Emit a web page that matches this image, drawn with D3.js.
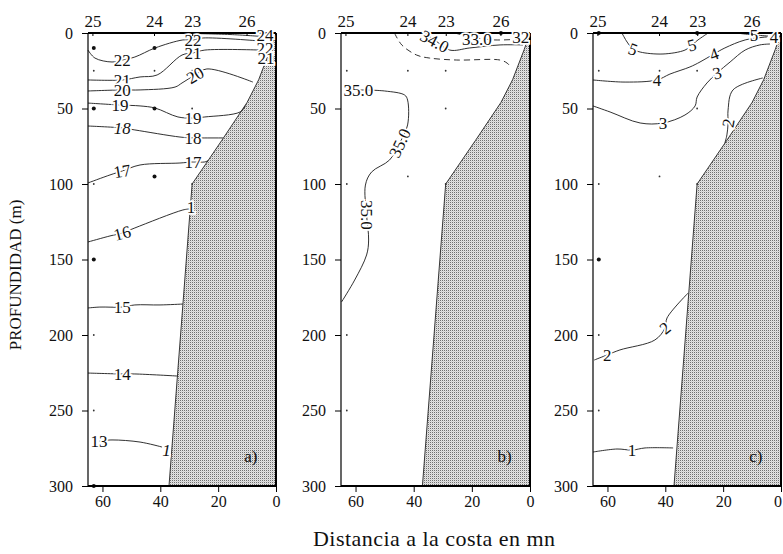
<!DOCTYPE html>
<html><head><meta charset="utf-8">
<script src="https://cdn.jsdelivr.net/npm/d3@7"></script>
<style>
body{margin:0;background:#fff}
text{font-family:"Liberation Serif","Times New Roman",serif;fill:#111}
</style>
</head><body>
<svg id="chart" width="783" height="554"></svg>
<script>
// ---------- data ----------
const distTicks = [60, 40, 20, 0];
const depthTicks = [0, 50, 100, 150, 200, 250, 300];
const stationNames = ["25", "24", "23", "26"];
const stationDist = [63.3, 42, 28.8, 10];
const panelNames = ["a)", "b)", "c)"];
const bathy = [[0,0],[2,11],[6,31],[10,46],[18.7,71],[29,100],[37,300]];
const samplePts = [[63,25],[42,25],[29,25],[29,50],[63,100],[42,95],[29,100],[63,200],[63,250]];
const bigDotsA = [[63,10],[42,10],[63,50],[42,50],[42,95],[63,150],[63,300]];
const bigDotsB = [[10,0]];
const bigDotsC = [[63,0],[29,0],[63,150]];

// panel a: temperature
const tLines = [
  [[29.7,0.3],[15.9,1.0],[4.8,2.3]],
  [[65,11.3],[62.6,16.6],[56.7,19.2],[53.2,17.9],[48.8,15.9],[41.8,9.9],[32.2,4.6],[28.7,4.6],[25.2,3.3],[5.5,5.3]],
  [[65,31.1],[53.2,31.1],[47.0,29.1],[41.1,27.8],[32.5,14.6],[28.7,13.2],[24.6,11.3],[5.2,11.3]],
  [[65,38.4],[53.2,37.7],[47.0,37.7],[34.9,35.8],[32.5,33.1],[28.0,27.8],[23.9,23.8],[8.0,32.5]],
  [[65,46.4],[53.9,47.7],[47.0,48.3],[41.8,49.7],[33.9,55.6],[28.7,56.3],[24.6,55.6],[12.4,52.3],[10.5,48]],
  [[65,61.6],[53.2,62.9],[48.8,64.2],[33.2,68.9],[28.7,69.5],[24.6,69.5],[18.3,69.5]],
  [[65,99.3],[57.4,94.0],[53.2,91.4],[47.0,87.4],[33.2,86.1],[28.7,85.4],[24.6,85.4],[23.5,84.5]],
  [[65,138.4],[57.4,134.4],[53.2,132.5],[48.8,129.1],[32.2,117.2],[29.8,116.5]],
  [[65,182.1],[60.9,181.5],[53.2,181.5],[48.8,180.1],[40.1,180.1],[32.2,179.5]],
  [[65,225.2],[53.2,225.8],[48.8,225.8],[33.9,227.2]],
  [[61,270.2],[56.7,269.5],[47.0,270.9],[39.4,274.2]]
];
const tLabels = [
  ["22",53.2,17.9,0],["22",28.7,4.6,0],["21",53.2,31.1,0],["21",28.7,13.2,0],
  ["20",53.2,37.7,0],["20",28.0,27.8,-30],["19",53.9,47.7,0],["19",28.7,56.3,0],
  ["18",53.2,62.9,0,1],["18",28.7,69.5,0],["17",53.2,91.4,-10],["17",28.7,85.4,0],
  ["16",53.2,132.5,-15],["1",29.4,115,0],["15",53.2,181.5,0],["14",53.2,225.8,0],
  ["13",61.2,270.2,0],["1",37.9,276,0,1],["24",3.8,1.3,0],["22",3.8,10,0],["21",3.5,16.5,0]
];

// panel b: salinity
const sLines = [
  [[59,37.7],[50.0,38.4],[43.1,41.1],[42.1,44.4],[42.1,60.9],[44.8,72.8],[48.3,84.1],[54.5,92.1],[56.6,100.7],[56.2,120.5],[55.5,137.1],[56.2,147.0],[60.3,163.6],[64.8,178.1]],
  [[36.5,0],[32.8,4.6],[27.6,11.3],[20.7,9.9],[10.3,7.9],[2.4,7.9]]
];
const sDashed = [
  [[46.6,0],[44.1,7.9],[39.0,14.6],[34.5,16.6],[25.2,17.9],[10.3,17.9],[7.9,19.9],[6.6,22.5]],
  [[25.9,0],[18.3,3.3],[12.1,4.6],[2.8,4.0]]
];
const sLabels = [
  ["35.0",59,37.7,0],["35.0",44.8,72.8,-65],["35.0",56.2,120.5,90],
  ["34.0",32.8,5.5,28],["33.0",18.3,3.8,0],["32",3.2,2.6,0]
];

// panel c: oxygen
const oLines = [
  [[55.0,0],[53.2,6.0],[51.2,10.6],[48.7,12.6],[40.8,13.9],[33.2,11.3],[30.8,7.9],[28.7,4.6],[25.2,0]],
  [[14.2,0.3],[9.3,1.3],[4.5,2.0]],
  [[65,31.1],[53.9,32.5],[42.9,31.1],[38.4,27.2],[31.5,22.5],[28.0,19.2],[23.2,13.9],[19.4,9.9],[12.4,4.6],[4.8,2.6]],
  [[65,48.3],[59.1,52.3],[48.7,59.6],[40.8,59.6],[33.2,54.3],[29.7,48.3],[29.0,42.4],[25.6,33.1],[22.1,26.5],[17.6,19.2],[12.4,11.3],[7.3,7.9],[3.8,7.3]],
  [[6.3,29.8],[16.6,37.7],[18.3,51.0],[18.3,59.6],[18.7,67.5],[19.4,72.8]],
  [[32.1,172.2],[39.4,188.7],[40.1,195.4],[43.6,203.3],[55.7,209.9],[60.1,213.2],[64.6,216.6]],
  [[65,277.5],[56.7,275.5],[51.5,276.2],[47.0,274.8],[37.3,274.8]]
];
const oLabels = [
  ["5",51.2,10.6,20],["5",30.8,7.9,-15],["5",9.3,1.3,0],["4",42.9,31.1,0],["4",23.2,13.9,-20],
  ["4",2.4,3.0,0],["3",40.8,59.6,0],["3",22.1,26.5,-15],["2",18.3,59.6,-80],["2",40.1,195.4,-40],
  ["2",60.1,213.2,0],["1",51.5,276.2,0]
];

// ---------- layout ----------
const svg = d3.select("#chart");
const panelLeft = [88, 341, 593], panelRight = [276, 530, 781];
const yTop = 33, yBottom = 486;
const y = d3.scaleLinear().domain([0, 300]).range([yTop, yBottom]);

const defs = svg.append("defs");
const pat = defs.append("pattern").attr("id","stip").attr("patternUnits","userSpaceOnUse")
  .attr("width",2).attr("height",2);
pat.append("rect").attr("width",2).attr("height",2).attr("fill","#e4e4e4");
pat.append("rect").attr("width",1).attr("height",1).attr("fill","#707070");
pat.append("rect").attr("x",1).attr("y",1).attr("width",1).attr("height",1).attr("fill","#cfcfcf");

const panels = [
  {solid: tLines, dashed: [], labels: tLabels, big: bigDotsA},
  {solid: sLines, dashed: sDashed, labels: sLabels, big: bigDotsB},
  {solid: oLines, dashed: [], labels: oLabels, big: bigDotsC}
];

panels.forEach((p, i) => {
  const x = d3.scaleLinear().domain([65, 0]).range([panelLeft[i], panelRight[i]]);
  const g = svg.append("g");
  const line = d3.line().x(d => x(d[0])).y(d => y(d[1])).curve(d3.curveCatmullRom.alpha(0.5));
  const straight = d3.line().x(d => x(d[0])).y(d => y(d[1]));

  // bathymetry
  const poly = bathy.concat([[0,300]]);
  g.append("path").attr("d", straight(poly) + "Z").attr("fill","url(#stip)");
  g.append("path").attr("d", straight(bathy))
    .attr("fill","none").attr("stroke","#222").attr("stroke-width",0.9);

  // sample points
  g.selectAll(".sp").data(samplePts).join("circle")
    .attr("cx", d => x(d[0])).attr("cy", d => y(d[1])).attr("r", 0.9).attr("fill","#333");
  g.selectAll(".bp").data(p.big).join("circle")
    .attr("cx", d => x(d[0])).attr("cy", d => y(d[1])).attr("r", 2).attr("fill","#111");

  // contours
  g.selectAll(".cl").data(p.solid).join("path").attr("d", line)
    .attr("fill","none").attr("stroke","#1a1a1a").attr("stroke-width",0.9);
  g.selectAll(".cd").data(p.dashed).join("path").attr("d", line)
    .attr("fill","none").attr("stroke","#1a1a1a").attr("stroke-width",0.9).attr("stroke-dasharray","6,4");

  // frame
  const fr = g.append("g").attr("stroke","#000");
  fr.append("line").attr("x1",x(65)).attr("x2",x(65)).attr("y1",yTop).attr("y2",yBottom).attr("stroke-width",1.2);
  fr.append("line").attr("x1",x(65)).attr("x2",x(0)).attr("y1",yTop).attr("y2",yTop).attr("stroke-width",1.8);
  fr.append("line").attr("x1",x(65)).attr("x2",x(0)).attr("y1",yBottom).attr("y2",yBottom).attr("stroke-width",1.8);
  fr.append("line").attr("x1",x(0)).attr("x2",x(0)).attr("y1",yTop).attr("y2",yBottom).attr("stroke-width",2);

  // contour labels
  g.selectAll(".lb").data(p.labels).join("text")
    .attr("transform", d => `translate(${x(d[1])},${y(d[2])}) rotate(${d[3]})`)
    .attr("text-anchor","middle").attr("dy","0.35em")
    .style("font-size","17px").style("font-style", d => d[4] ? "italic" : "normal")
    .attr("stroke","#fff").attr("stroke-width",3.5).attr("paint-order","stroke")
    .text(d => d[0]);

  // axes
  const ya = g.append("g").attr("transform",`translate(${x(65)},0)`)
    .call(d3.axisLeft(y).tickValues(depthTicks).tickSize(6).tickPadding(9).tickFormat(d3.format("d")));
  const xa = g.append("g").attr("transform",`translate(0,${yBottom})`)
    .call(d3.axisBottom(x).tickValues(distTicks).tickSize(6).tickPadding(4).tickFormat(d3.format("d")));
  [ya, xa].forEach(a => {
    a.select(".domain").remove();
    a.selectAll("text").style("font-size","16px").style("font-family","'Liberation Serif',serif").attr("fill","#111");
    a.selectAll("line").attr("stroke","#000");
  });
  if (i === 2) {
    xa.selectAll(".tick text").filter(d => d === 0).attr("text-anchor","end").attr("dx","0.5");
  }

  // stations on top
  g.selectAll(".st").data(stationNames).join("text")
    .attr("x", (d, k) => x(stationDist[k])).attr("y", 27)
    .attr("text-anchor","middle").style("font-size","17px").text(d => d);
  g.selectAll(".stt").data(stationDist).join("line")
    .attr("x1", d => x(d)).attr("x2", d => x(d)).attr("y1", yTop).attr("y2", yTop + 3)
    .attr("stroke","#000").attr("stroke-width",1);

  // panel letter
  g.append("text").attr("x", x(8.7)).attr("y", y(280)).attr("text-anchor","middle")
    .attr("dy","0.35em").style("font-size","17px").text(panelNames[i]);
});

// titles
svg.append("text").attr("transform","translate(21,275) rotate(-90)")
  .attr("text-anchor","middle").style("font-size","17px").text("PROFUNDIDAD (m)");
svg.append("text").attr("x",434).attr("y",546).attr("text-anchor","middle")
  .style("font-size","22px").attr("textLength",242).text("Distancia a la costa en mn");
</script>
</body></html>
